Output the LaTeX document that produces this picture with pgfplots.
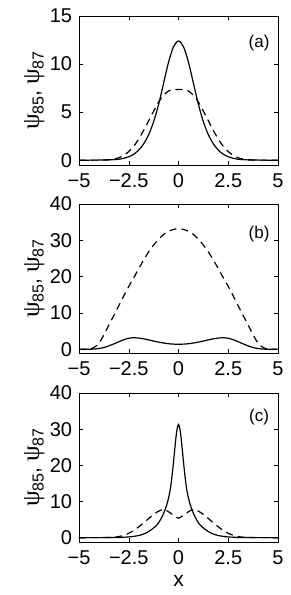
\documentclass[border=0pt]{standalone}
\usepackage{pgfplots}
\pgfplotsset{compat=1.18}
\usepackage{fontspec}
\setmainfont{Liberation Sans}
\newfontfamily\psifont{Liberation Serif}
\newcommand{\psil}{{\psifont\fontsize{25}{25}\selectfont ψ}}
\newcommand{\ylab}{\fontsize{21}{21}\selectfont\psil\raisebox{-0.4ex}{\fontsize{16}{16}\selectfont 85}, \psil\raisebox{-0.4ex}{\fontsize{16}{16}\selectfont 87}}

\pgfplotsset{
  mstyle/.style={
    scale only axis, width=199pt, height=149pt,
    xmin=-5, xmax=5,
    xtick={-5,-2.5,0,2.5,5},
    xticklabels={−5,−2.5,0,2.5,5},
    tick align=inside, major tick length=4pt,
    tick style={line width=0.5pt, black},
    axis line style={line width=0.8pt},
    ticklabel style={font=\fontsize{20}{20}\selectfont, inner sep=1pt},
    xticklabel style={yshift=-7.2pt},
    yticklabel style={xshift=-5.7pt},
    ylabel={\ylab},
    ylabel style={at={(axis description cs:-0.225,0.5)}, anchor=center},
    every axis plot/.append style={line width=1.2pt, smooth, no markers},
  },
  dsh/.style={dash pattern=on 7pt off 5pt},
}

\begin{document}
\begin{tikzpicture}
\useasboundingbox (0pt,0pt) rectangle (291pt,595pt);

% ---------- (a) ----------
\begin{axis}[mstyle, at={(79pt,430pt)}, anchor=south west,
  ymin=-0.5, ymax=15, ytick={0,5,10,15}, yticklabels={0,5,10,15}]
\addplot[black] coordinates {(-5,0) (-4,0.01) (-3.5,0.03) (-3,0.1) (-2.75,0.2) (-2.5,0.36) (-2.25,0.62) (-2,1.05) (-1.75,1.7) (-1.5,2.65) (-1.25,4.0) (-1,5.8) (-0.75,8.0) (-0.5,10.2) (-0.25,11.8) (0,12.4) (0.25,11.8) (0.5,10.2) (0.75,8.0) (1,5.8) (1.25,4.0) (1.5,2.65) (1.75,1.7) (2,1.05) (2.25,0.62) (2.5,0.36) (2.75,0.2) (3,0.1) (3.5,0.03) (4,0.01) (5,0)};
\addplot[black,dsh] coordinates {(-5,0) (-4,0.01) (-3.5,0.05) (-3.25,0.12) (-3,0.25) (-2.75,0.5) (-2.5,0.9) (-2.25,1.45) (-2,2.2) (-1.75,3.1) (-1.5,4.1) (-1.25,5.1) (-1,6.05) (-0.75,6.75) (-0.5,7.2) (-0.25,7.33) (0,7.35) (0.25,7.33) (0.5,7.2) (0.75,6.75) (1,6.05) (1.25,5.1) (1.5,4.1) (1.75,3.1) (2,2.2) (2.25,1.45) (2.5,0.9) (2.75,0.5) (3,0.25) (3.25,0.12) (3.5,0.05) (4,0.01) (5,0)};
\node[font=\fontsize{17}{17}\selectfont] at (rel axis cs:0.905,0.82) {(a)};
\end{axis}

% ---------- (b) ----------
\begin{axis}[mstyle, at={(79pt,242pt)}, anchor=south west,
  ymin=-1, ymax=40, ytick={0,10,20,30,40}, yticklabels={0,10,20,30,40}]
\addplot[black] coordinates {(-5,0) (-4.5,0.03) (-4.25,0.08) (-4,0.22) (-3.75,0.5) (-3.5,0.95) (-3.25,1.5) (-3,2.1) (-2.75,2.65) (-2.5,3.05) (-2.25,3.2) (-2,3.1) (-1.75,2.9) (-1.5,2.6) (-1,2.0) (-0.5,1.55) (0,1.4) (0.5,1.55) (1,2.0) (1.5,2.6) (1.75,2.9) (2,3.1) (2.25,3.2) (2.5,3.05) (2.75,2.65) (3,2.1) (3.25,1.5) (3.5,0.95) (3.75,0.5) (4,0.22) (4.25,0.08) (4.5,0.03) (5,0)};
\addplot[black,dsh] coordinates {(-5,0) (-4.75,0.02) (-4.5,0.1) (-4.25,0.5) (-4,1.7) (-3.75,4.0) (-3.5,6.7) (-3.25,9.3) (-3,12.0) (-2.75,14.7) (-2.5,17.3) (-2.25,19.7) (-2,22.2) (-1.75,24.6) (-1.5,26.8) (-1.25,28.7) (-1,30.3) (-0.75,31.6) (-0.5,32.5) (-0.25,33.0) (0,33.2) (0.25,33.0) (0.5,32.5) (0.75,31.6) (1,30.3) (1.25,28.7) (1.5,26.8) (1.75,24.6) (2,22.2) (2.25,19.7) (2.5,17.3) (2.75,14.7) (3,12.0) (3.25,9.3) (3.5,6.7) (3.75,4.0) (4,1.7) (4.25,0.5) (4.5,0.1) (4.75,0.02) (5,0)};
\node[font=\fontsize{17}{17}\selectfont] at (rel axis cs:0.905,0.8) {(b)};
\end{axis}

% ---------- (c) ----------
\begin{axis}[mstyle, at={(79pt,53pt)}, anchor=south west,
  ymin=-1.2, ymax=40, ytick={0,10,20,30,40}, yticklabels={0,10,20,30,40},
  xlabel={x}, xlabel style={at={(axis description cs:0.5,-0.26)}, anchor=center, font=\fontsize{21}{21}\selectfont}]
\addplot[black] coordinates {(-5,0) (-4,0.01) (-3.5,0.02) (-3,0.06) (-2.5,0.2) (-2.25,0.35) (-2,0.6) (-1.75,1.0) (-1.5,1.7) (-1.2,2.9) (-1,4.1) (-0.8,6.1) (-0.7,7.4) (-0.6,8.9) (-0.5,11.0) (-0.4,13.8) (-0.3,18.3) (-0.2,23.8) (-0.1,29.0) (0,31.3) (0.1,29.0) (0.2,23.8) (0.3,18.3) (0.4,13.8) (0.5,11.0) (0.6,8.9) (0.7,7.4) (0.8,6.1) (1,4.1) (1.2,2.9) (1.5,1.7) (1.75,1.0) (2,0.6) (2.25,0.35) (2.5,0.2) (3,0.06) (3.5,0.02) (4,0.01) (5,0)};
\addplot[black,dsh] coordinates {(-5,0) (-4,0.01) (-3.5,0.05) (-3.25,0.12) (-3,0.3) (-2.75,0.65) (-2.5,1.2) (-2.25,2.0) (-2,3.0) (-1.75,4.1) (-1.5,5.3) (-1.25,6.4) (-1.1,7.0) (-0.9,7.6) (-0.75,7.8) (-0.6,7.5) (-0.4,6.8) (-0.2,6.0) (0,5.4) (0.2,6.0) (0.4,6.8) (0.6,7.5) (0.75,7.8) (0.9,7.6) (1.1,7.0) (1.25,6.4) (1.5,5.3) (1.75,4.1) (2,3.0) (2.25,2.0) (2.5,1.2) (2.75,0.65) (3,0.3) (3.25,0.12) (3.5,0.05) (4,0.01) (5,0)};
\node[font=\fontsize{17}{17}\selectfont] at (rel axis cs:0.905,0.835) {(c)};
\end{axis}
\end{tikzpicture}
\end{document}
